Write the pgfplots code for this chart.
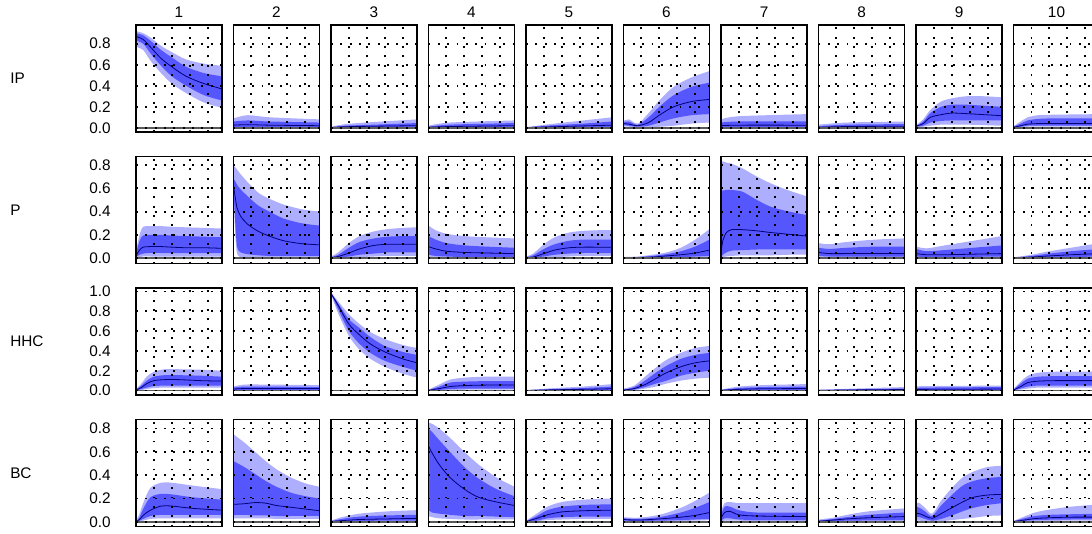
\documentclass[border=0pt]{standalone}
\usepackage{pgfplots}
\pgfplotsset{compat=1.18}
\usepgfplotslibrary{groupplots,fillbetween}
\usepackage{pgfplotstable}
\usepackage{fontspec}
\setmainfont{Liberation Sans}
\definecolor{lightb}{RGB}{174,174,255}
\definecolor{darkb}{RGB}{86,86,255}
\definecolor{medb}{RGB}{0,0,120}
\newcommand{\lab}{\fontsize{11.5}{13}\selectfont}

% ---------------- IP row ----------------
\pgfplotstableread{
x a b c d e
0 .77 .83 .87 .90 .92
2 .74 .80 .84 .88 .90
4 .64 .71 .77 .83 .86
7 .52 .59 .66 .74 .78
10 .42 .49 .58 .67 .72
14 .33 .40 .49 .58 .65
19 .24 .31 .42 .52 .61
24 .19 .26 .37 .49 .59
}\tIPa
\pgfplotstableread{
x a b c d e
0 0 .005 .025 .06 .09
4 0 .005 .03 .07 .12
10 0 .005 .025 .06 .10
24 0 .005 .02 .05 .08
}\tIPb
\pgfplotstableread{
x a b c d e
0 0 0 .002 .005 .01
4 .001 .004 .01 .02 .035
12 .002 .006 .015 .03 .055
24 .003 .008 .02 .045 .08
}\tIPc
\pgfplotstableread{
x a b c d e
0 0 .002 .005 .01 .02
6 .002 .005 .012 .03 .05
24 .003 .008 .02 .045 .07
}\tIPd
\pgfplotstableread{
x a b c d e
0 0 0 .002 .004 .006
8 .001 .004 .01 .025 .04
16 .002 .006 .018 .04 .07
24 .003 .008 .025 .06 .10
}\tIPe
\pgfplotstableread{
x a b c d e
0 .01 .025 .04 .055 .065
1.5 .01 .02 .035 .06 .08
4 .005 .01 .02 .03 .04
7 .005 .02 .05 .10 .14
10 .01 .05 .12 .20 .26
14 .02 .09 .20 .31 .39
19 .04 .12 .25 .39 .48
24 .05 .13 .27 .43 .54
}\tIPf
\pgfplotstableread{
x a b c d e
0 0 .005 .02 .05 .08
5 0 .005 .025 .06 .11
24 0 .005 .025 .06 .13
}\tIPg
\pgfplotstableread{
x a b c d e
0 0 .002 .005 .015 .03
8 .002 .005 .012 .03 .05
24 .003 .006 .015 .035 .06
}\tIPh
\pgfplotstableread{
x a b c d e
0 .005 .01 .015 .02 .025
2 .01 .02 .04 .06 .08
4 .02 .05 .10 .14 .17
7 .03 .065 .125 .20 .25
10 .03 .07 .14 .22 .28
14 .03 .07 .135 .22 .30
19 .025 .07 .125 .21 .30
24 .02 .07 .115 .20 .29
}\tIPi
\pgfplotstableread{
x a b c d e
0 0 0 .005 .01 .015
2 .005 .01 .02 .04 .06
4 .01 .02 .035 .07 .10
7 .01 .02 .04 .085 .12
12 .01 .02 .04 .09 .125
24 .01 .02 .04 .09 .13
}\tIPj
% ---------------- P row ----------------
\pgfplotstableread{
x a b c d e
0 .005 .01 .02 .04 .06
1 .01 .03 .07 .15 .20
2 .015 .04 .095 .195 .27
4 .015 .045 .10 .20 .275
7 .015 .045 .10 .20 .275
10 .015 .045 .095 .195 .27
14 .015 .045 .09 .19 .265
19 .015 .045 .09 .185 .26
24 .015 .045 .085 .18 .255
}\tPa
\pgfplotstableread{
x a b c d e
0 .55 .58 .62 .68 .80
0.5 .20 .30 .52 .66 .78
1 .04 .10 .43 .63 .76
2 .01 .05 .36 .59 .72
4 .005 .035 .29 .53 .65
7 .005 .025 .23 .45 .56
10 .005 .02 .19 .40 .51
14 .005 .02 .15 .34 .46
19 .005 .02 .125 .30 .42
24 .005 .02 .115 .28 .40
}\tPb
\pgfplotstableread{
x a b c d e
0 0 0 .005 .01 .015
2 0 .005 .015 .03 .05
5 .005 .015 .045 .09 .13
8 .01 .03 .08 .14 .19
12 .015 .04 .11 .17 .23
16 .02 .05 .12 .185 .25
20 .02 .05 .12 .19 .26
24 .02 .05 .12 .19 .265
}\tPc
\pgfplotstableread{
x a b c d e
0 .01 .03 .10 .19 .28
2 .005 .02 .08 .16 .24
5 .005 .015 .06 .13 .21
10 .005 .01 .05 .11 .19
16 .005 .01 .045 .10 .18
24 .005 .01 .04 .09 .17
}\tPd
\pgfplotstableread{
x a b c d e
0 0 0 .005 .01 .015
2 0 .005 .01 .025 .04
5 .005 .015 .04 .08 .12
8 .01 .03 .07 .12 .18
12 .015 .04 .09 .15 .22
16 .02 .045 .095 .16 .235
20 .02 .045 .095 .16 .24
24 .02 .045 .095 .16 .24
}\tPe
\pgfplotstableread{
x a b c d e
0 0 0 .002 .005 .01
4 0 .002 .005 .01 .015
8 0 .004 .01 .02 .03
12 .002 .006 .02 .035 .05
16 .004 .01 .03 .06 .09
20 .006 .015 .045 .10 .16
24 .01 .02 .07 .16 .25
}\tPf
\pgfplotstableread{
x a b c d e
0 .005 .01 .04 .58 .83
0.5 .01 .03 .15 .58 .83
1.5 .015 .05 .22 .585 .82
3 .02 .065 .245 .585 .81
6 .025 .07 .245 .57 .77
10 .025 .075 .235 .50 .70
14 .025 .075 .22 .44 .64
19 .03 .075 .205 .40 .58
24 .03 .075 .19 .37 .53
}\tPg
\pgfplotstableread{
x a b c d e
0 .005 .02 .05 .09 .13
3 .005 .015 .04 .08 .12
8 .005 .015 .04 .09 .14
16 .005 .015 .04 .10 .16
24 .005 .015 .04 .10 .17
}\tPh
\pgfplotstableread{
x a b c d e
0 .005 .015 .04 .08 .10
3 .003 .01 .03 .06 .085
8 .003 .01 .03 .07 .11
16 .004 .012 .035 .09 .15
24 .005 .015 .04 .11 .19
}\tPi
\pgfplotstableread{
x a b c d e
0 0 0 .002 .005 .008
5 0 .003 .01 .02 .03
10 .002 .006 .02 .04 .06
16 .004 .01 .03 .06 .09
24 .006 .015 .04 .08 .13
}\tPj
% ---------------- HHC row ----------------
\pgfplotstableread{
x a b c d e
0 0 .002 .005 .01 .015
1.5 .005 .015 .03 .05 .07
3 .015 .03 .07 .10 .14
5 .025 .045 .10 .14 .19
8 .03 .05 .11 .155 .215
12 .03 .05 .11 .155 .215
18 .03 .05 .10 .15 .21
24 .03 .05 .095 .14 .20
}\tHa
\pgfplotstableread{
x a b c d e
0 .002 .005 .015 .03 .04
3 .002 .006 .02 .04 .06
10 .002 .006 .02 .04 .06
24 .002 .006 .02 .035 .055
}\tHb
\pgfplotstableread{
x a b c d e
0 .97 .975 .98 .985 .99
2 .78 .82 .86 .88 .90
5 .55 .60 .67 .72 .77
8 .41 .47 .56 .63 .67
11 .32 .38 .47 .54 .59
15 .24 .30 .39 .45 .52
20 .17 .24 .32 .39 .46
24 .13 .20 .28 .36 .43
}\tHc
\pgfplotstableread{
x a b c d e
0 0 0 .002 .005 .01
3 .002 .006 .02 .04 .06
6 .005 .015 .04 .08 .11
10 .008 .02 .05 .09 .13
16 .01 .02 .055 .095 .14
24 .01 .02 .055 .095 .14
}\tHd
\pgfplotstableread{
x a b c d e
0 0 0 0 .002 .005
8 0 .002 .008 .015 .025
16 .001 .004 .012 .025 .04
24 .002 .006 .018 .04 .065
}\tHe
\pgfplotstableread{
x a b c d e
0 0 .002 .005 .01 .02
3 .005 .01 .02 .035 .05
6 .02 .035 .06 .10 .14
9 .04 .07 .12 .18 .23
12 .07 .10 .18 .25 .31
16 .10 .15 .24 .32 .38
20 .12 .18 .28 .36 .43
24 .13 .20 .30 .38 .45
}\tHf
\pgfplotstableread{
x a b c d e
0 0 0 .002 .005 .01
5 .001 .004 .012 .025 .04
12 .002 .006 .018 .035 .055
24 .003 .008 .02 .04 .065
}\tHg
\pgfplotstableread{
x a b c d e
0 0 0 .002 .005 .008
12 .001 .003 .007 .013 .022
24 .001 .004 .01 .02 .035
}\tHh
\pgfplotstableread{
x a b c d e
0 .002 .005 .012 .025 .04
3 .002 .005 .012 .03 .045
24 .002 .006 .015 .035 .05
}\tHi
\pgfplotstableread{
x a b c d e
0 0 .002 .005 .01 .015
2 .01 .02 .04 .07 .09
4 .02 .04 .08 .12 .15
7 .03 .05 .095 .14 .18
12 .03 .05 .10 .145 .19
24 .03 .05 .10 .145 .19
}\tHj
% ---------------- BC row ----------------
\pgfplotstableread{
x a b c d e
0 0 0 0 0 .005
1 .005 .01 .02 .04 .07
2 .01 .025 .055 .11 .16
4 .025 .05 .10 .21 .29
7 .03 .06 .135 .24 .335
10 .03 .06 .135 .235 .335
16 .03 .06 .115 .21 .31
24 .03 .06 .10 .19 .28
}\tBa
\pgfplotstableread{
x a b c d e
0 .03 .06 .15 .52 .75
3 .03 .06 .155 .47 .68
6 .03 .055 .165 .41 .60
9 .03 .055 .16 .35 .52
12 .025 .05 .14 .30 .45
16 .025 .05 .125 .25 .38
20 .025 .05 .11 .22 .33
24 .025 .05 .095 .20 .30
}\tBb
\pgfplotstableread{
x a b c d e
0 0 0 .002 .005 .01
3 .001 .004 .01 .025 .04
8 .002 .008 .02 .045 .07
16 .003 .01 .025 .055 .09
24 .003 .01 .03 .06 .10
}\tBc
\pgfplotstableread{
x a b c d e
0 .05 .10 .65 .80 .85
1 .04 .08 .59 .77 .84
3 .03 .07 .49 .70 .80
6 .025 .06 .38 .60 .72
10 .02 .05 .28 .47 .60
14 .02 .05 .21 .37 .49
19 .02 .045 .17 .28 .38
24 .02 .04 .14 .22 .30
}\tBd
\pgfplotstableread{
x a b c d e
0 0 0 .002 .005 .01
3 .005 .01 .03 .05 .07
6 .015 .03 .06 .10 .13
10 .02 .04 .085 .13 .17
16 .025 .045 .095 .145 .19
24 .025 .045 .10 .15 .20
}\tBe
\pgfplotstableread{
x a b c d e
0 .005 .01 .02 .03 .04
4 .003 .008 .015 .025 .035
10 .005 .01 .025 .04 .06
16 .008 .015 .04 .08 .12
20 .01 .02 .055 .12 .18
24 .015 .025 .08 .17 .25
}\tBf
\pgfplotstableread{
x a b c d e
0 .005 .01 .03 .06 .09
1 .01 .03 .08 .13 .16
2.5 .01 .03 .09 .13 .17
5 .01 .02 .06 .10 .16
10 .005 .015 .05 .08 .16
24 .005 .015 .045 .08 .16
}\tBg
\pgfplotstableread{
x a b c d e
0 0 .002 .005 .01 .02
4 .002 .006 .015 .025 .035
8 .004 .01 .025 .04 .06
14 .005 .012 .035 .06 .09
24 .005 .015 .045 .08 .115
}\tBh
\pgfplotstableread{
x a b c d e
0 .01 .04 .07 .13 .16
1 .01 .04 .07 .12 .16
2.5 .005 .025 .05 .09 .12
4.5 .002 .01 .03 .05 .07
7 .005 .025 .07 .14 .18
10 .015 .055 .12 .23 .29
13 .025 .09 .17 .31 .38
16 .035 .12 .21 .35 .43
20 .05 .145 .23 .375 .47
24 .055 .16 .235 .385 .48
}\tBi
\pgfplotstableread{
x a b c d e
0 0 0 .002 .005 .008
3 .003 .008 .015 .03 .045
6 .006 .014 .028 .05 .08
10 .008 .018 .035 .06 .105
16 .01 .02 .04 .065 .13
24 .01 .02 .04 .07 .15
}\tBj

\newcommand{\bands}[1]{%
  \addplot[draw=none, smooth, name path=LL, forget plot] table[x=x,y=a]{#1};
  \addplot[draw=none, smooth, name path=UU, forget plot] table[x=x,y=e]{#1};
  \addplot[fill=lightb, draw=none, forget plot] fill between[of=LL and UU];
  \addplot[draw=none, smooth, name path=L, forget plot] table[x=x,y=b]{#1};
  \addplot[draw=none, smooth, name path=U, forget plot] table[x=x,y=d]{#1};
  \addplot[fill=darkb, draw=none, forget plot] fill between[of=L and U];
  \addplot[medb, line width=0.6pt, smooth, forget plot] table[x=x,y=c]{#1};
  \draw[black!65, line width=1.2pt] (axis cs:0,0) -- (axis cs:24,0);
}

\pgfplotsset{
  rowA/.style={ymin=-0.04, ymax=0.978, ytick={0,0.2,0.4,0.6,0.8}},
  rowB/.style={ymin=-0.045, ymax=0.872, ytick={0,0.2,0.4,0.6,0.8}},
  rowC/.style={ymin=-0.045, ymax=1.035, ytick={0,0.2,0.4,0.6,0.8,1.0}},
  rowD/.style={ymin=-0.04, ymax=0.877, ytick={0,0.2,0.4,0.6,0.8}},
}

\begin{document}
\begin{tikzpicture}
\begin{groupplot}[
  group style={group size=10 by 4, horizontal sep=8.625pt, vertical sep=18.375pt,
    yticklabels at=edge left, xticklabels at=edge bottom},
  width=64.5pt, height=80.25pt, scale only axis,
  xmin=0, xmax=24, xtick={5,10,15,20}, xticklabels={},
  grid=major,
  major grid style={black, line width=1.4pt, dash pattern=on 1.4pt off 5.6pt},
  axis on top,
  axis line style={line width=1.3pt},
  major tick length=0pt,
  clip mode=individual,
  /pgf/number format/fixed, /pgf/number format/fixed zerofill,
  /pgf/number format/precision=1, /pgf/number format/assume math mode=true,
  yticklabel style={font=\lab, anchor=east, inner sep=0pt, xshift=-18.75pt},
  every axis title shift=0pt,
  title style={font=\lab, at={(rel axis cs:0.5,1)}, anchor=base, yshift=5.6pt, inner sep=0pt},
]
% row IP
\nextgroupplot[rowA, title={1}]
\coordinate (tl) at (rel axis cs:0,1);
\bands{\tIPa}
\node[anchor=west, inner sep=0pt, font=\lab] at ([xshift=-94.5pt]rel axis cs:0,0.5) {IP};
\nextgroupplot[rowA, title={2}] \bands{\tIPb}
\nextgroupplot[rowA, title={3}] \bands{\tIPc}
\nextgroupplot[rowA, title={4}] \bands{\tIPd}
\nextgroupplot[rowA, title={5}] \bands{\tIPe}
\nextgroupplot[rowA, title={6}] \bands{\tIPf}
\nextgroupplot[rowA, title={7}] \bands{\tIPg}
\nextgroupplot[rowA, title={8}] \bands{\tIPh}
\nextgroupplot[rowA, title={9}] \bands{\tIPi}
\nextgroupplot[rowA, title={10}] \bands{\tIPj}
% row P
\nextgroupplot[rowB] \bands{\tPa}
\node[anchor=west, inner sep=0pt, font=\lab] at ([xshift=-94.5pt]rel axis cs:0,0.5) {P};
\nextgroupplot[rowB] \bands{\tPb}
\nextgroupplot[rowB] \bands{\tPc}
\nextgroupplot[rowB] \bands{\tPd}
\nextgroupplot[rowB] \bands{\tPe}
\nextgroupplot[rowB] \bands{\tPf}
\nextgroupplot[rowB] \bands{\tPg}
\nextgroupplot[rowB] \bands{\tPh}
\nextgroupplot[rowB] \bands{\tPi}
\nextgroupplot[rowB] \bands{\tPj}
% row HHC
\nextgroupplot[rowC] \bands{\tHa}
\node[anchor=west, inner sep=0pt, font=\lab] at ([xshift=-94.5pt]rel axis cs:0,0.5) {HHC};
\nextgroupplot[rowC] \bands{\tHb}
\nextgroupplot[rowC] \bands{\tHc}
\nextgroupplot[rowC] \bands{\tHd}
\nextgroupplot[rowC] \bands{\tHe}
\nextgroupplot[rowC] \bands{\tHf}
\nextgroupplot[rowC] \bands{\tHg}
\nextgroupplot[rowC] \bands{\tHh}
\nextgroupplot[rowC] \bands{\tHi}
\nextgroupplot[rowC] \bands{\tHj}
% row BC
\nextgroupplot[rowD] \bands{\tBa}
\node[anchor=west, inner sep=0pt, font=\lab] at ([xshift=-94.5pt]rel axis cs:0,0.5) {BC};
\nextgroupplot[rowD] \bands{\tBb}
\nextgroupplot[rowD] \bands{\tBc}
\nextgroupplot[rowD] \bands{\tBd}
\nextgroupplot[rowD] \bands{\tBe}
\nextgroupplot[rowD] \bands{\tBf}
\nextgroupplot[rowD] \bands{\tBg}
\nextgroupplot[rowD] \bands{\tBh}
\nextgroupplot[rowD] \bands{\tBi}
\nextgroupplot[rowD] \bands{\tBj}
\end{groupplot}
\pgfresetboundingbox
\useasboundingbox ([xshift=-102pt,yshift=18.75pt]tl) rectangle ([xshift=717pt,yshift=-381pt]tl);
\end{tikzpicture}
\end{document}
